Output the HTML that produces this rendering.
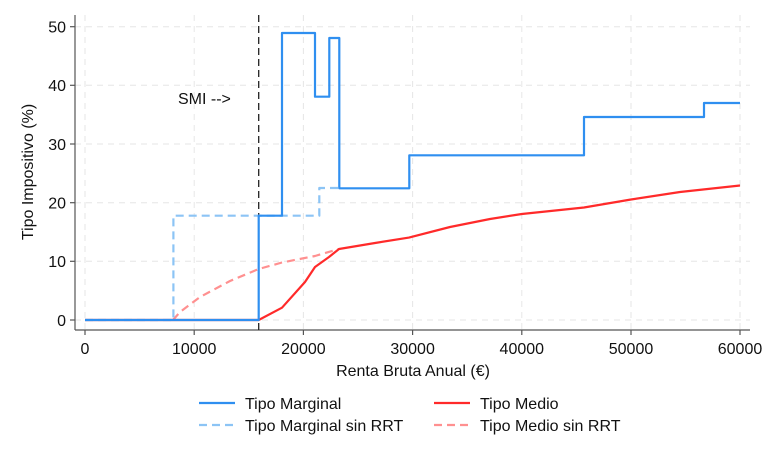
<!DOCTYPE html>
<html><head><meta charset="utf-8"><style>
html,body{margin:0;padding:0;background:#fff;}
svg text{font-family:"Liberation Sans",sans-serif;fill:#111;}
</style></head><body>
<svg width="768" height="461" xmlns="http://www.w3.org/2000/svg">
<g stroke="#e6e6e6" stroke-width="1" stroke-dasharray="6,5">
<line x1="75" y1="320" x2="750" y2="320"/><line x1="75" y1="261.3" x2="750" y2="261.3"/>
<line x1="75" y1="202.7" x2="750" y2="202.7"/><line x1="75" y1="144" x2="750" y2="144"/>
<line x1="75" y1="85.3" x2="750" y2="85.3"/><line x1="75" y1="26.7" x2="750" y2="26.7"/>
<line x1="85" y1="15" x2="85" y2="330"/><line x1="194.2" y1="15" x2="194.2" y2="330"/>
<line x1="303.4" y1="15" x2="303.4" y2="330"/><line x1="412.6" y1="15" x2="412.6" y2="330"/>
<line x1="521.8" y1="15" x2="521.8" y2="330"/><line x1="631" y1="15" x2="631" y2="330"/>
<line x1="740" y1="15" x2="740" y2="330"/>
</g>
<g stroke="#555" stroke-width="1.2">
<line x1="75" y1="15" x2="75" y2="330"/><line x1="75" y1="330" x2="750" y2="330"/>
<line x1="70" y1="320" x2="75" y2="320"/><line x1="70" y1="261.3" x2="75" y2="261.3"/><line x1="70" y1="202.7" x2="75" y2="202.7"/><line x1="70" y1="144" x2="75" y2="144"/><line x1="70" y1="85.3" x2="75" y2="85.3"/><line x1="70" y1="26.7" x2="75" y2="26.7"/>
<line x1="85" y1="330" x2="85" y2="335"/><line x1="194.2" y1="330" x2="194.2" y2="335"/><line x1="303.4" y1="330" x2="303.4" y2="335"/><line x1="412.6" y1="330" x2="412.6" y2="335"/><line x1="521.8" y1="330" x2="521.8" y2="335"/><line x1="631" y1="330" x2="631" y2="335"/><line x1="740" y1="330" x2="740" y2="335"/>
</g>
<g font-size="16" text-anchor="end">
<text x="66" y="326">0</text><text x="66" y="267">10</text><text x="66" y="208.5">20</text><text x="66" y="150">30</text><text x="66" y="91">40</text><text x="66" y="32.5">50</text>
</g>
<g font-size="16" text-anchor="middle">
<text x="85" y="354">0</text><text x="194.2" y="354">10000</text><text x="303.4" y="354">20000</text><text x="412.6" y="354">30000</text><text x="521.8" y="354">40000</text><text x="631" y="354">50000</text><text x="740" y="354">60000</text>
<text x="413" y="376">Renta Bruta Anual (€)</text>
<text transform="translate(33,172) rotate(-90)">Tipo Impositivo (%)</text>
</g>
<text x="178" y="104" font-size="16">SMI --&gt;</text>
<line x1="258.7" y1="15" x2="258.7" y2="330" stroke="#222" stroke-width="1.3" stroke-dasharray="7,4"/>
<g fill="none" stroke-width="2.2" stroke-linejoin="round">
<polyline stroke="#ff9090" stroke-dasharray="8,5" points="173,320 180,312 200,297 230,281 258.7,269 282,262.5 315,256 339,249"/>
<polyline stroke="#8cc4f5" stroke-dasharray="8,5" points="85,320 173.4,320 173.4,215.7 319.3,215.7 319.3,188 340,188"/>
<polyline stroke="#ff2a2a" points="85,320 258.7,320 282,307.7 305,282 315,267 329,257 339,249 375,243 409,237.6 450,227 490,219 521.8,214 584,207.5 631,199.5 680,192 740,185.5"/>
<polyline stroke="#2f8ff0" points="85,320 258.7,320 258.7,215.7 282,215.7 282,33 315,33 315,96.7 329.3,96.7 329.3,38 339.3,38 339.3,188.3 409.3,188.3 409.3,155.3 584,155.3 584,117 704,117 704,103 740,103"/>
</g>
<g stroke-width="2.2">
<line x1="199" y1="403" x2="235" y2="403" stroke="#2f8ff0"/>
<line x1="199" y1="425" x2="235" y2="425" stroke="#8cc4f5" stroke-dasharray="8,5"/>
<line x1="434" y1="403" x2="470" y2="403" stroke="#ff2a2a"/>
<line x1="434" y1="425" x2="470" y2="425" stroke="#ff9090" stroke-dasharray="8,5"/>
</g>
<g font-size="16">
<text x="245" y="409">Tipo Marginal</text><text x="245" y="431">Tipo Marginal sin RRT</text>
<text x="480" y="409">Tipo Medio</text><text x="480" y="431">Tipo Medio sin RRT</text>
</g>
</svg>
</body></html>
